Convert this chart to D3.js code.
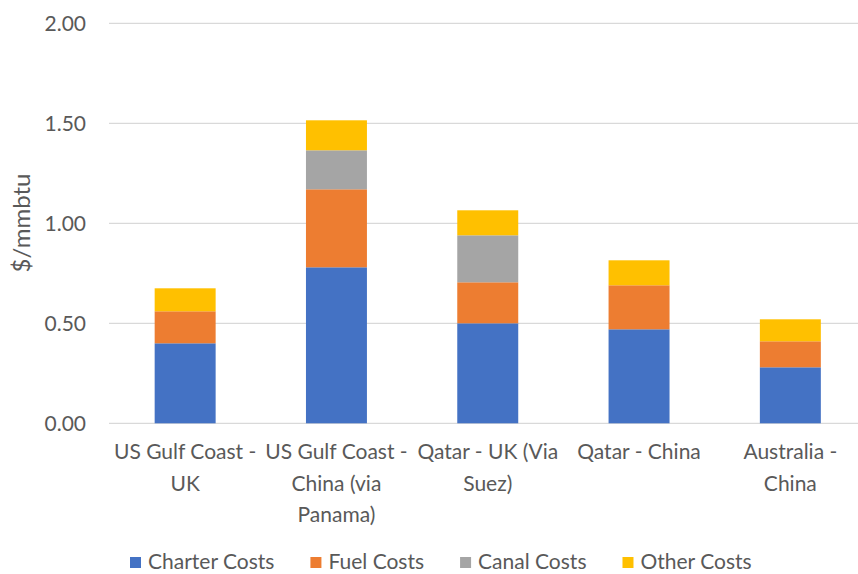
<!DOCTYPE html>
<html>
<head>
<meta charset="utf-8">
<script src="https://cdn.jsdelivr.net/npm/d3@7"></script>
<style>
  html, body { margin: 0; padding: 0; background: #fff; }
  svg { display: block; font-family: Lato, "Open Sans", sans-serif; }
</style>
</head>
<body>
<svg id="chart" width="858" height="574"></svg>
<script>
// LNG shipping cost breakdown by route ($/mmbtu)
const routes = [
  ["US Gulf Coast -", "UK"],
  ["US Gulf Coast -", "China (via", "Panama)"],
  ["Qatar - UK (Via", "Suez)"],
  ["Qatar - China"],
  ["Australia -", "China"]
];
const seriesNames = ["Charter Costs", "Fuel Costs", "Canal Costs", "Other Costs"];
const charterCosts = [0.40, 0.78, 0.50, 0.47, 0.28];
const fuelCosts    = [0.16, 0.39, 0.205, 0.22, 0.13];
const canalCosts   = [0.00, 0.195, 0.235, 0.00, 0.00];
const otherCosts   = [0.115, 0.15, 0.125, 0.125, 0.11];
const yTicks = [0, 0.5, 1.0, 1.5, 2.0];
const colors = ["#4472C4", "#ED7D31", "#A5A5A5", "#FFC000"];

const rows = routes.map((r, i) => ({
  key: i,
  "Charter Costs": charterCosts[i],
  "Fuel Costs": fuelCosts[i],
  "Canal Costs": canalCosts[i],
  "Other Costs": otherCosts[i]
}));

const svg = d3.select("#chart");
const textColor = "#595959";
const fontSize = "21px";

const x = d3.scaleBand()
  .domain(routes.map((d, i) => i))
  .range([109.5, 866])
  .paddingInner(0.597)
  .paddingOuter(0.2985);

const y = d3.scaleLinear().domain([0, 2]).range([423.3, 23.3]);

// horizontal gridlines
svg.append("g")
  .selectAll("line")
  .data(yTicks)
  .join("line")
  .attr("x1", 109)
  .attr("x2", 858)
  .attr("y1", d => y(d))
  .attr("y2", d => y(d))
  .attr("stroke", "#D9D9D9")
  .attr("stroke-width", 1.3);

// y axis tick labels
const yAxis = d3.axisLeft(y)
  .tickValues(yTicks)
  .tickFormat(d3.format(".2f"))
  .tickSize(0)
  .tickPadding(0);
const yg = svg.append("g").attr("transform", "translate(86,0)").call(yAxis);
yg.select(".domain").remove();
yg.selectAll("text")
  .attr("fill", textColor)
  .attr("dy", "0.35em")
  .style("font-size", fontSize)
  .style("font-family", "Lato, sans-serif");

// y axis title
svg.append("text")
  .attr("transform", "translate(30,223) rotate(-90)")
  .attr("text-anchor", "middle")
  .attr("fill", textColor)
  .style("font-size", "24px")
  .text("$/mmbtu");

// stacked bars
const stack = d3.stack().keys(seriesNames);
const layers = stack(rows);

svg.append("g")
  .selectAll("g")
  .data(layers)
  .join("g")
  .attr("fill", (d, i) => colors[i])
  .selectAll("rect")
  .data(d => d)
  .join("rect")
  .attr("x", d => x(d.data.key))
  .attr("width", x.bandwidth())
  .attr("y", d => y(d[1]))
  .attr("height", d => y(d[0]) - y(d[1]));

// category labels, wrapped over several lines
const xg = svg.append("g");
routes.forEach((lines, i) => {
  const cx = x(i) + x.bandwidth() / 2;
  const t = xg.append("text")
    .attr("text-anchor", "middle")
    .attr("fill", textColor)
    .style("font-size", fontSize)
    .attr("x", cx)
    .attr("y", 459);
  lines.forEach((ln, j) => {
    t.append("tspan")
      .attr("x", cx)
      .attr("dy", j === 0 ? 0 : 31.5)
      .text(ln);
  });
});

// legend, items laid out left to right
const lg = svg.append("g");
let lx = 130;
seriesNames.forEach((name, i) => {
  lg.append("rect")
    .attr("x", lx)
    .attr("y", 557)
    .attr("width", 11)
    .attr("height", 11)
    .attr("fill", colors[i]);
  const t = lg.append("text")
    .attr("x", lx + 18)
    .attr("y", 569)
    .attr("fill", textColor)
    .style("font-size", fontSize)
    .text(name);
  lx += 18 + t.node().getComputedTextLength() + 36;
});
</script>
</body>
</html>
